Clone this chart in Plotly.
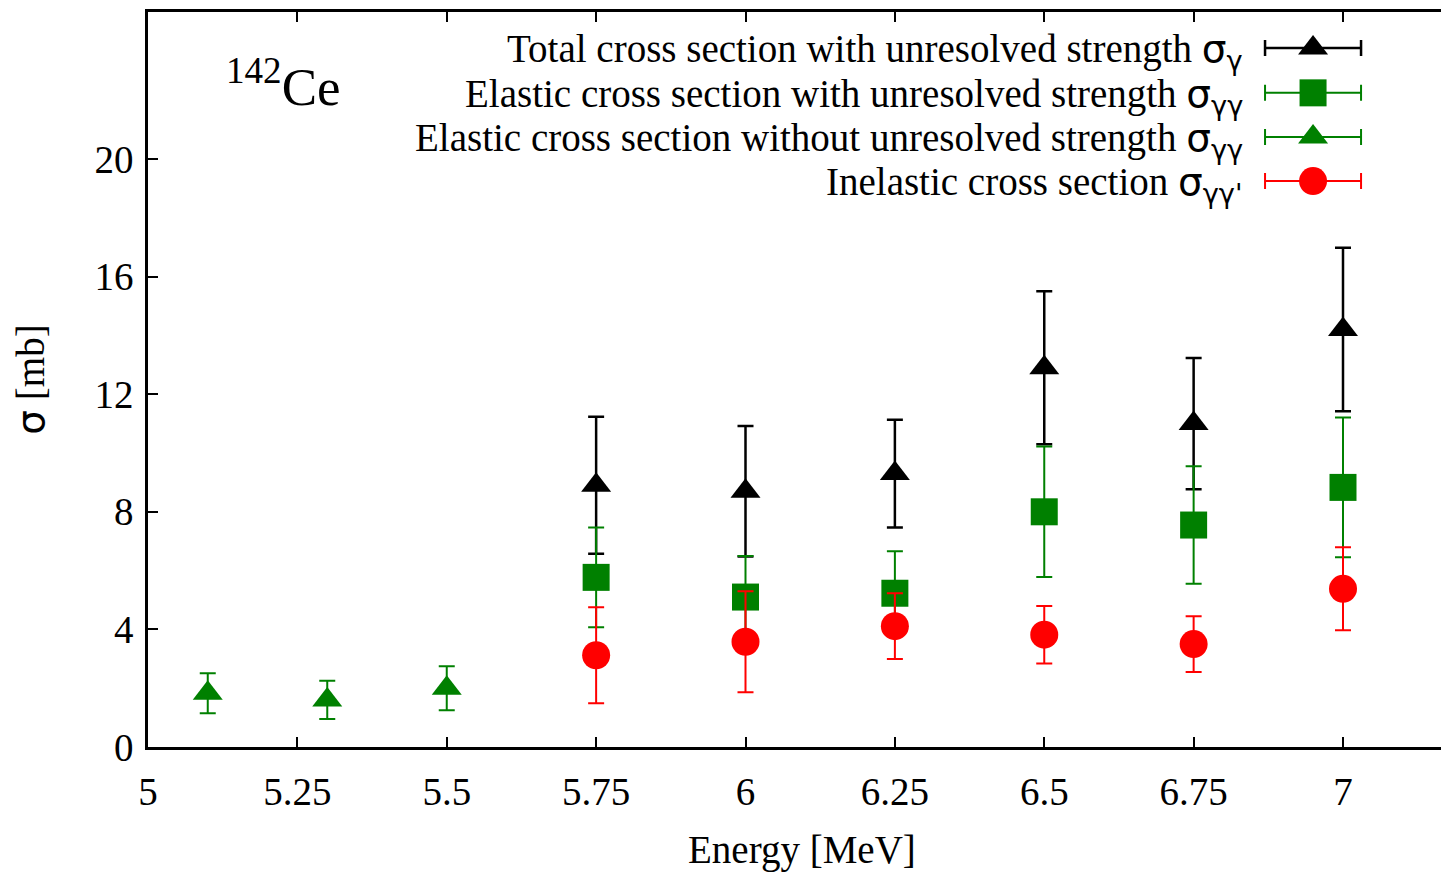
import plotly.graph_objects as go

# ---- data ----
energy = [5.75, 6.0, 6.25, 6.5, 6.75, 7.0]
total = [8.9, 8.7, 9.3, 12.9, 11.0, 14.2]
total_err = [2.33, 2.22, 1.83, 2.6, 2.23, 2.78]
elastic_with = [5.77, 5.1, 5.23, 8.0, 7.55, 8.83]
elastic_with_err = [1.7, 1.4, 1.43, 2.22, 2.0, 2.38]
energy_low = [5.1, 5.3, 5.5]
elastic_without = [1.83, 1.6, 2.0]
elastic_without_err = [0.68, 0.65, 0.75]
inelastic = [3.12, 3.58, 4.11, 3.82, 3.5, 5.38]
inelastic_err = [1.63, 1.72, 1.12, 0.98, 0.95, 1.41]

x_ticks = [5, 5.25, 5.5, 5.75, 6, 6.25, 6.5, 6.75, 7]
x_ticklabels = ["5", "5.25", "5.5", "5.75", "6", "6.25", "6.5", "6.75", "7"]
y_ticks = [0, 4, 8, 12, 16, 20]

SANS = "DejaVu Sans"
SIG = '<span style="font-family:%s">σ</span>' % SANS


def sub(t):
    return '<sub><span style="font-family:%s">%s</span></sub>' % (SANS, t)


legend_labels = [
    "Total cross section with unresolved strength " + SIG + sub("γ"),
    "Elastic cross section with unresolved strength " + SIG + sub("γγ"),
    "Elastic cross section without unresolved strength " + SIG + sub("γγ"),
    "Inelastic cross section " + SIG + sub("γγ'"),
]

BLACK = "#000000"
GREEN = "#008000"
RED = "#ff0000"
FONT = "Liberation Serif"

series = [
    (energy, total, total_err, "triangle-up", 26, BLACK, 2.5),
    (energy, elastic_with, elastic_with_err, "square", 27, GREEN, 2),
    (energy_low, elastic_without, elastic_without_err, "triangle-up", 26, GREEN, 2),
    (energy, inelastic, inelastic_err, "circle", 28, RED, 2),
]

fig = go.Figure()
for xs, ys, es, sym, sz, col, th in series:
    fig.add_trace(go.Scatter(
        x=xs, y=ys, mode="markers",
        marker=dict(symbol=sym, size=sz, color=col, line=dict(width=0)),
        error_y=dict(type="data", array=es, visible=True, color=col, thickness=th, width=8),
        showlegend=False, hoverinfo="skip",
    ))

# custom gnuplot-style key (sample on the right of the text)
key_y = [0.951, 0.890, 0.830, 0.770]
key_x = 0.8955
key_half = 0.0369
for (xs, ys, es, sym, sz, col, th), ky, lab in zip(series, key_y, legend_labels):
    fig.add_trace(go.Scatter(
        x=[key_x], y=[ky], xaxis="x3", yaxis="y3", mode="markers",
        marker=dict(symbol=sym, size=sz, color=col, line=dict(width=0)),
        error_x=dict(type="data", array=[key_half], visible=True, color=col, thickness=th, width=8),
        showlegend=False, hoverinfo="skip",
    ))
    fig.add_annotation(
        x=0.8432, y=ky - 0.004, xref="x3", yref="y3", text=lab, showarrow=False,
        xanchor="right", yanchor="middle", font=dict(family=FONT, size=39, color="#000000"),
    )

fig.add_annotation(
    x=0.1038, y=0.903, xref="paper", yref="paper", text="<sup>142</sup>Ce", showarrow=False,
    xanchor="center", yanchor="middle", font=dict(family=FONT, size=53, color="#000000"),
)

# x-axis title
fig.add_annotation(
    x=0.503, y=-0.1405, xref="paper", yref="paper", text="Energy [MeV]", showarrow=False,
    xanchor="center", yanchor="middle", font=dict(family=FONT, size=39, color="#000000"),
)

axis_common = dict(showgrid=False, zeroline=False, linecolor="#000000", linewidth=2.5,
                   ticks="inside", ticklen=10, tickwidth=2, tickcolor="#000000",
                   automargin=False)

fig.update_layout(
    width=1441, height=864,
    margin=dict(l=140, r=0, t=4, b=125),
    paper_bgcolor="white", plot_bgcolor="white",
    font=dict(family=FONT, size=39, color="#000000"),
    xaxis=dict(range=[5, 7.1774], tickvals=x_ticks, ticktext=x_ticklabels,
               showline=True, mirror="ticks", ticklabelstandoff=8,
               **axis_common),
    yaxis=dict(range=[0, 25], tickvals=y_ticks, showline=True, ticklabelstandoff=4,
               title=dict(text=SIG + " [mb]", font=dict(family=FONT, size=39), standoff=44),
               **axis_common),
    yaxis2=dict(overlaying="y", side="right", matches="y", range=[0, 25], tickvals=y_ticks,
                showticklabels=False, showline=False, showgrid=False, zeroline=False,
                ticks="inside", ticklen=10, tickwidth=2, tickcolor="#000000"),
    xaxis3=dict(overlaying="x", range=[0, 1], visible=False, fixedrange=True),
    yaxis3=dict(overlaying="y", range=[0, 1], visible=False, fixedrange=True),
)

fig.write_html("out.html")
